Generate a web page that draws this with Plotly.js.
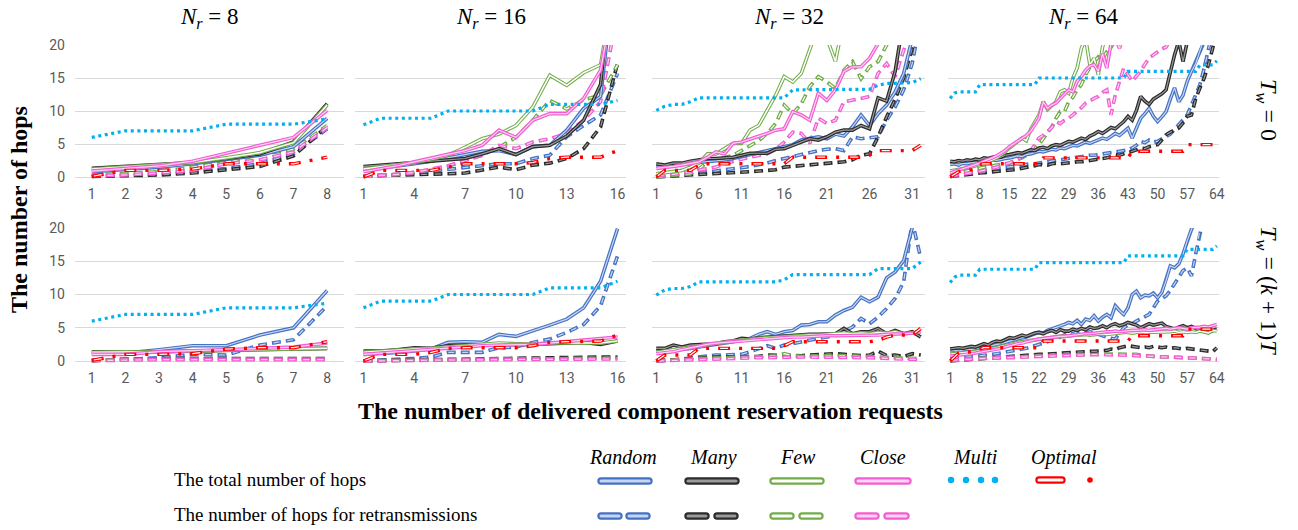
<!DOCTYPE html>
<html>
<head>
<meta charset="utf-8">
<script src="https://cdn.plot.ly/plotly-3.0.1.min.js"></script>
<style>html,body{margin:0;padding:0;background:#fff;}#chart{width:1298px;height:530px;}</style>
</head>
<body>
<div id="chart"></div>
<script>
// ---------------- DATA ----------------
const panelSizes = [8, 16, 32, 64];
const rowLabels = ['<i>T</i><sub><i>w</i></sub> = 0', '<i>T</i><sub><i>w</i></sub> = (<i>k</i> + 1)<i>T</i>'];
const colTitles = ['<i>N</i><sub><i>r</i></sub> = 8', '<i>N</i><sub><i>r</i></sub> = 16', '<i>N</i><sub><i>r</i></sub> = 32', '<i>N</i><sub><i>r</i></sub> = 64'];
const methodNames = ['Random', 'Many', 'Few', 'Close', 'Multi', 'Optimal'];
const yTicks = [0, 5, 10, 15, 20];
const xTicks8 = [1, 2, 3, 4, 5, 6, 7, 8];
const xTicks16 = [1, 4, 7, 10, 13, 16];
const xTicks32 = [1, 6, 11, 16, 21, 26, 31];
const xTicks64 = [1, 8, 15, 22, 29, 36, 43, 50, 57, 64];

// ---- Tw = 0, Nr = 8
const t8_random   = [0.8,1.1,1.5,2,2.6,3.3,4.6,8.9];
const t8_randomR  = [0.1,0.2,0.4,0.8,1.3,2,3.5,7.3];
const t8_many     = [1.3,1.6,1.9,2.2,2.8,3.5,5.3,11.1];
const t8_manyR    = [0.1,0.2,0.3,0.6,1.1,1.6,3.2,7.7];
const t8_few      = [1.2,1.5,1.8,2.2,2.9,3.7,5.2,10.9];
const t8_fewR     = [0.3,0.5,0.8,1.5,2.2,3.4,4.2,7.8];
const t8_close    = [0.9,1.3,1.7,2.4,3.6,4.7,6,10.1];
const t8_closeR   = [0.2,0.3,0.6,1,2,2.6,3.8,7.5];
const t8_multi    = [6,7,7,7,8,8,8,8.8];
const t8_optimal  = [0.1,1,1,1.2,2,2,2,3];

// ---- Tw = 0, Nr = 16
const t16_random  = [1,1.3,1.6,2,2.4,2.9,3.4,3.9,4,3.4,4.6,4.8,7.1,10.4,12.2,35];
const t16_randomR = [0.1,0.2,0.4,0.6,0.9,1.2,1.5,1.8,2,2,2.8,3.3,6.1,7.8,9.4,15.7];
const t16_many    = [1.6,1.8,2,2.2,2.4,2.6,2.8,3.5,4.3,3.4,4.6,4.8,6.2,8.6,14,40];
const t16_manyR   = [0.15,0.2,0.3,0.35,0.4,0.5,0.6,1,1.5,1.1,1.8,2.1,2.8,4.3,7.6,17.2];
const t16_few     = [1.2,1.5,1.8,2.2,2.7,3.3,4.5,5.8,6.5,7.8,10.6,15.4,13.9,15.8,17,32];
const t16_fewR    = [0.1,0.2,0.4,0.7,1.1,1.6,2.5,3.3,4.5,6,8.6,11.6,10.3,11.7,12.4,17];
const t16_close   = [0.8,1.2,1.7,2.3,2.9,3.4,4,4.8,7.1,6,8.6,9.6,9.6,11.9,16.2,30];
const t16_closeR  = [0.1,0.2,0.4,0.7,1.2,1.7,2.5,3.3,4.8,4.3,5.3,5.8,6.6,8.6,11.4,25];
const t16_multi   = [7.9,8.9,8.9,8.9,8.9,10,10,10,10,10,10,11,11,11,11,11.6];
const t16_optimal = [0,1,1,1,1,1.5,2,2,2,2,2.2,2.8,3,3,3,4];

// ---- Tw = 0, Nr = 32
const t32_random  = [1.5,1.6,1.7,1.8,2,2.2,2.3,2.4,2.6,2.8,3.1,3.3,3.6,3.9,4.3,4.6,4.9,5.6,5.8,6.1,5.8,6.5,6.2,7.6,9.4,7.8,9.6,10.9,12.9,15.7,21,28];
const t32_randomR = [0.1,0.2,0.3,0.4,0.5,0.6,0.8,0.9,1.1,1.2,1.4,1.6,1.8,2.1,2.5,2.8,3.1,3.5,3.7,4,4.2,4.3,4,6.1,5.8,6,6.1,8.6,10.6,13.2,17.2,24];
const t32_many    = [2,1.8,2.1,2.1,2.4,2.6,2.8,2.8,2.9,3,3.3,3.6,3.6,3.6,4.2,4.3,4.8,5.3,5.8,5.6,6.1,6.8,7.1,7.1,7.8,7.3,12,11.5,16,24,30,35];
const t32_manyR   = [0,0.1,0.2,0.3,0.35,0.4,0.45,0.5,0.55,0.6,0.7,0.8,0.9,1,1.1,1.5,1.6,1.7,1.8,1.9,2,2.1,2.3,2.6,3.3,3.5,6.1,9.1,11.8,15,19.5,24];
const t32_few     = [0.5,0.7,0.9,1,1.5,2.1,3.5,3.5,4.3,5.1,5.1,7.1,7.8,10.1,12.4,15.2,14.4,15.7,19.5,23,21,17.5,24,26,25,28,30,29,32,34,36,38];
const t32_fewR    = [0,0.1,0.2,0.3,0.5,1.2,2.3,2.6,2.9,3.3,4,4.8,5.5,6.6,8.1,10.9,9.6,11.1,13.7,15.2,14.4,13.4,16.2,17.5,14.9,16.7,17.5,20,22,24,26,28];
const t32_close   = [1.3,1.4,1.6,1.8,2,2.3,3,3.8,3.5,5.1,5.3,5.7,6.1,6.6,7.1,7.3,9.9,9.4,8.6,12.7,11.6,13.2,16,16.7,16.7,18,20.2,22,24,26,28,30];
const t32_closeR  = [0.25,0.3,0.4,0.6,0.8,1,1.2,1.5,2,2.4,2.7,3,3.2,3.5,4.2,5.3,6.8,6.6,5.1,8.9,8.1,8.6,11.4,11.6,11.9,12.2,15.7,17.2,15.2,19.2,23,26];
const t32_multi   = [10.1,10.7,11,11,11.4,12,12,12,12,12,12,12,12,12,12,12,13.2,13.2,13.2,13.2,13.2,13.2,13.2,13.2,13.2,13.3,13.9,14.2,14.2,14.2,14.3,14.9];
const t32_optimal = [0,1,1,1,1,1.8,2,2,2,2,2,2,2,2,2,2,3,3,3,3,3,3,3,3,3,3.3,4,4,4,4,4,4.8];

// ---- Tw = 0, Nr = 64
const t64_random  = [1.9,2.0,1.8,2.1,2.0,2.2,2.1,2.3, 2.4,2.3,2.6,2.5,2.7,2.8,2.9, 3.0,3.2,3.1,3.4,3.5,3.7,3.9, 3.8,4.0,4.2,4.1,4.4,4.3,4.6, 4.8,4.7,5.0,5.3,5.1,5.4,5.6, 5.9,5.7,6.2,6.6,6.3,6.9,7.4, 5.9,7.5,8.9,9.6,10.4,9.2,8.4, 9.1,9.9,11.8,13.5,11.4,12.4,14.5, 16,17.2,19,20.5,23,26,29];
const t64_randomR = [0.35,0.4,0.5,0.5,0.6,0.7,0.8,0.9, 1.0,1.1,1.1,1.3,1.4,1.5,1.6, 1.7,1.7,1.8,1.9,2.0,2.0,2.1, 2.2,2.3,2.4,2.5,2.6,2.8,2.9, 3.0,3.0,3.1,3.2,3.3,3.3,3.4, 3.5,3.6,3.7,3.8,3.9,4.0,4.1, 4.4,4.8,5.4,5.2,5.6,5.3,5.4, 5.8,6.1,6.5,7.2,7.9,8.6,9.4, 10.9,12.5,14,16.5,19,22,25];
const t64_many    = [2.4,2.3,2.5,2.4,2.6,2.5,2.7,2.6, 2.9,2.8,3.0,3.1,3.0,3.3,3.4, 3.5,3.7,3.6,3.9,4.1,4.0,4.4, 4.5,4.3,4.7,4.9,4.8,5.1,5.4, 5.3,5.6,5.9,5.7,6.2,6.5,6.9, 6.6,7.1,7.5,7.3,7.9,8.4,9.2, 8.6,10.1,12.2,11.5,11.0,11.8,12.2, 12.6,13.2,16.0,18.5,20.6,17.5,20.5, 23,24,26,28,30,33,36];
const t64_manyR   = [0.1,0.15,0.2,0.25,0.3,0.4,0.5,0.6, 0.65,0.7,0.75,0.8,0.85,0.9,1.0, 1.1,1.2,1.3,1.4,1.6,1.7,1.9, 1.9,1.8,2.0,2.1,2.0,2.1,2.1, 2.2,2.3,2.3,2.4,2.4,2.5,2.6, 2.7,2.9,3.1,3.4,3.3,3.5,3.6, 3.8,4.1,4.4,4.3,4.6,4.7,4.9, 5.6,6.4,6.8,7.1,7.4,8.2,9.2, 9.4,11.9,13.5,15,17,19.5,22];
const t64_few     = [0.9,1.0,1.1,1.2,1.3,1.5,1.7,1.9, 2.1,2.3,2.6,2.9,3.3,3.8,4.4, 4.9,5.4,5.9,5.5,7.2,8.3,9.4, 11.4,10.2,10.8,11.4,12.9,13.2,12.7, 15.0,16.5,19.5,21,17,18,15.5, 19.7,22,24,23,25,26,27, 28,27,29,30,31,32,33, 34,35,36,37,38,39,40, 41,42,43,44,45,46,47];
const t64_fewR    = [0.35,0.5,0.6,0.7,0.9,1.0,1.2,1.4, 1.5,1.6,1.7,1.8,1.9,2.0,2.1, 2.4,2.6,2.9,3.3,3.9,4.4,4.9, 5.8,6.9,7.6,8.9,9.9,9.9,11.4, 12.1,13.2,14.0,15.5,16.6,17.5,18.2, 17.8,19.0,19.6,21,22,21.5,23, 24,25,24.5,26,27,28,29, 30,31,32,33,34,35,36, 37,38,39,40,41,42,43];
const t64_close   = [0.6,0.8,1.0,1.2,1.4,1.7,1.9,2.1, 2.4,2.6,2.9,3.2,3.6,4.0,4.6, 5.0,5.4,5.9,6.3,6.9,7.8,8.9, 11.4,10.4,10.9,11.2,11.9,12.6,13.2, 12.9,14.5,15.2,16.2,16.8,17.0,16.0, 18.7,16.5,20.2,21,19.5,22,23, 24,25,26,27,28,29,30, 31,32,33,34,35,36,37, 38,39,40,41,42,43,44];
const t64_closeR  = [0.1,0.2,0.3,0.4,0.5,0.6,0.8,0.9, 1.0,1.2,1.3,1.5,1.7,1.9,2.1, 2.4,2.7,3.0,3.4,3.9,4.9,5.9, 6.3,6.9,7.5,8.4,8.1,8.6,8.9, 9.4,9.9,10.5,11.2,11.6,11.9,12.2, 12.8,13.2,9.4,12.4,14.5,16.5,15.5, 14.5,15.3,16.0,17.1,18.0,18.5,19.0, 19.4,19.7,21,22,23,24,25, 26,27,28,29,30,31,32];
const t64_multi   = [11.9,12.7,12.9,12.9,12.9,12.9,12.9, 14,14,14,14,14,14,14,14,14,14,14,14,14,14, 15,15,15,15,15,15,15,15,15,15,15,15,15,15,15,15,15,15,15,15,15, 16,16,16,16,16,16,16,16,16,16,16,16,16,16,16,16,16, 17,17,17,17, 17.6];
const t64_optimal = [0,0.4,0.8,1.0,1.0,1.1,1.5,1.9, 2,2,2,2,2,2,2,2,2,2,2,2,2,2, 2.9,2.9,2.9,2.9,2.9,2.9,2.9,2.9,2.9,2.9,2.9,2.9,2.9,2.9,2.9,2.9,2.9,2.9,2.9,2.9,2.9, 3.9,3.9,3.9,3.9,3.9,3.9,3.9,3.9,3.9,3.9,3.9,3.9,3.9, 4.9,4.9,4.9,4.9,4.9,4.9,4.9, 5.9];

// ---- Tw = (k+1)T, Nr = 8
const b8_random   = [1.1,1.2,1.7,2.3,2.3,3.9,5,10.6];
const b8_randomR  = [0.1,0.2,0.5,1,0.9,2.4,3.2,8.3];
const b8_many     = [1.4,1.3,1.4,1.5,1.6,1.7,1.8,1.9];
const b8_manyR    = [0.05,0.3,0.35,0.35,0.35,0.35,0.35,0.35];
const b8_few      = [1.3,1.3,1.4,1.5,1.6,1.7,1.8,1.9];
const b8_fewR     = [0.05,0.25,0.3,0.3,0.3,0.3,0.3,0.3];
const b8_close    = [1,1,1.4,1.5,1.7,1.9,2.1,2.7];
const b8_closeR   = [0.05,0.15,0.2,0.2,0.2,0.2,0.2,0.2];
const b8_multi    = [6,7,7,7,8,8,8,8.7];
const b8_optimal  = [0.1,1,1,1.1,1.8,2,2,2.9];

// ---- Tw = (k+1)T, Nr = 16
const b16_random  = [1,1.1,1.3,1.5,1.8,2.8,2.9,2.8,4,3.7,4.5,5.4,6.3,8,12,19.9];
const b16_randomR = [0,0.1,0.25,0.4,0.6,1.3,1.3,1.3,2,2.1,2.8,3.3,4.3,5.5,8.3,15.8];
const b16_many    = [1.5,1.5,1.7,2,1.9,2.3,2.4,2.4,2.5,2.5,2.5,2.6,2.7,2.8,2.5,3];
const b16_manyR   = [0,0.1,0.15,0.2,0.2,0.25,0.3,0.35,0.35,0.4,0.4,0.45,0.5,0.55,0.6,0.6];
const b16_few     = [1.3,1.5,1.6,1.8,1.9,2.1,2.3,2.4,2.7,2.6,2.5,2.7,2.7,2.8,2.7,3];
const b16_fewR    = [0,0.05,0.1,0.15,0.15,0.2,0.2,0.25,0.3,0.3,0.3,0.35,0.35,0.35,0.35,0.4];
const b16_close   = [1,1.2,1.4,1.6,1.8,2,2.2,2.3,2.4,2.4,2.5,2.7,2.9,3.1,3.3,3.6];
const b16_closeR  = [0,0.05,0.05,0.1,0.1,0.15,0.15,0.2,0.2,0.25,0.25,0.25,0.3,0.3,0.3,0.3];
const b16_multi   = [8,9,9,9,9,10,10,10,10,10,10,11,11,11,11,12];
const b16_optimal = [0,1,1,1,1.3,1.9,2,2,2,2,2.3,2.8,2.9,3,3,3.9];

// ---- Tw = (k+1)T, Nr = 32
const b32_random  = [1.4,1.5,1.6,1.7,1.9,2.1,2.3,2.4,2.6,2.9,3.1,3.4,4,4.4,4,4.4,4.6,5.4,5.5,5.9,5.9,6.9,7.6,8.1,9.6,8.9,9.6,12.5,13.4,15.1,19.9,25];
const b32_randomR = [0,0.15,0.15,0.3,0.4,0.65,0.8,0.9,0.9,0.9,1,1.4,1.9,2.3,1.9,2.4,2.6,2.9,3.1,3.4,3.6,3.9,4.5,5.1,6.4,5.6,6.6,7.9,9.4,11.9,21,15.5];
const b32_many    = [1.9,1.9,2.4,2.1,2.4,2.5,2.6,2.6,2.9,3,3.4,3.3,3.5,3.6,3.6,3.7,3.9,3.9,4,4,4.1,4.1,4.9,4.1,4.4,4.4,4.9,4.1,4.6,4.1,4.4,3.6];
const b32_manyR   = [0,0.1,0.2,0.3,0.4,0.5,0.55,0.6,0.6,0.65,0.65,0.65,0.7,0.9,0.85,0.9,0.85,0.8,0.9,0.95,1,1.1,1,0.9,0.8,0.9,1.5,0.8,0.9,0.65,1.1,0.9];
const b32_few     = [1.3,1.5,1.7,1.9,2.1,2.3,2.4,2.6,2.8,3,3.1,3.3,3.4,3.5,3.6,3.7,3.8,3.8,3.9,3.9,4,4,4.2,4.1,4.2,4.1,4.3,4.2,4.4,4.1,4.2,4.5];
const b32_fewR    = [0,0.1,0.15,0.2,0.3,0.35,0.4,0.45,0.5,0.55,0.6,0.6,0.65,0.7,0.75,1.1,0.8,0.7,0.75,0.7,0.75,0.8,0.8,0.75,0.7,0.65,0.6,0.55,0.5,0.45,0.4,0.35];
const b32_close   = [1.1,1.2,1.4,1.7,2,2.3,2.5,2.7,2.8,2.9,3.1,3.2,3.3,3.4,3.4,3.5,3.6,3.6,3.7,3.7,3.8,3.8,3.8,3.8,3.9,3.9,3.9,4,4,4.1,4.2,4.4];
const b32_closeR  = [0,0.05,0.1,0.15,0.2,0.25,0.3,0.35,0.4,0.4,0.45,0.45,0.5,0.5,0.55,0.55,0.55,0.6,0.6,0.6,0.6,0.6,0.55,0.55,0.5,0.5,0.45,0.4,0.35,0.3,0.25,0.2];
const b32_multi   = [9.9,10.7,10.9,10.9,11.2,11.9,11.9,11.9,11.9,11.9,11.9,11.9,11.9,11.9,11.9,12.2,13,13,13,13,13,13,13,13,13,13,13.9,13.9,13.9,13.9,13.9,14.9];
const b32_optimal = [0,0.9,0.9,0.9,0.9,1.9,1.9,1.9,1.9,1.9,1.9,1.9,1.9,1.9,1.9,2.3,2.9,2.9,2.9,2.9,2.9,2.9,2.9,2.9,2.9,2.9,3.1,3.6,3.9,3.9,3.9,4.9];

// ---- Tw = (k+1)T, Nr = 64
const b64_random  = [1.5,1.6,1.5,1.7,1.8,1.7,1.9,2.0, 2.1,2.2,2.3,2.5,2.6,2.8,3.0, 3.1,3.3,3.5,3.6,3.9,4.1,4.3, 4.2,4.6,4.8,5.0,5.3,5.5,5.8, 5.6,6.1,5.5,6.3,6.1,6.8,6.0, 6.6,7.0,6.5,8.3,7.6,7.0,8.0, 10.0,10.5,9.5,9.9,9.8,10.2,9.5, 10.3,12.1,14.3,14.0,14.6,16.1,18.1, 19.8,21,22,23,24,25,26];
const b64_randomR = [0.5,0.5,0.55,0.6,0.6,0.65,0.7,0.75, 0.8,0.9,1.0,1.1,1.2,1.3,1.5, 1.6,1.7,1.8,1.9,2.1,2.3,2.5, 2.7,2.9,3.5,3.3,3.6,4.0,4.3, 4.1,4.4,4.5,4.2,4.4,4.3,4.0, 3.8,3.5,3.4,3.3,4.2,5.0,5.4, 5.6,6.0,6.3,6.6,7.0,8.0,9.0, 9.4,9.8,10.6,11.6,12.4,13.6,14.0, 12.8,16.1,19.8,22,24,26,28];
const b64_many    = [1.8,1.9,2.0,1.9,2.1,2.2,2.1,2.3, 2.6,2.4,2.8,3.0,2.9,3.2,3.5, 3.4,3.6,3.9,3.7,4.0,4.2,4.3, 4.1,4.4,4.6,4.3,4.7,4.5,4.5, 4.8,4.6,4.9,4.7,5.1,4.9,5.0, 5.3,5.0,5.4,5.6,5.3,5.5,5.8, 5.6,5.4,5.0,5.3,5.6,5.4,5.5, 5.7,5.2,5.0,4.8,5.1,5.3,5.0, 5.2,4.9,4.5,4.6,4.3,4.6,4.8];
const b64_manyR   = [0,0.05,0.1,0.15,0.2,0.25,0.3,0.4, 0.45,0.5,0.5,0.55,0.6,0.7,0.75, 0.8,0.8,0.85,0.9,0.9,0.95,1.0, 1.0,1.05,1.1,1.1,1.15,1.2,1.3, 1.3,1.35,1.4,1.4,1.45,1.45,1.5, 1.5,1.6,1.8,1.7,2.0,2.2,2.3, 2.2,2.1,2.0,2.1,2.0,2.2,2.1, 2.0,2.1,1.9,2.0,1.9,1.8,1.9, 1.8,1.7,1.6,1.5,1.5,1.4,2.0];
const b64_few     = [1.0,1.1,1.1,1.2,1.3,1.3,1.4,1.5, 1.6,1.7,1.9,2.0,2.2,2.3,2.5, 2.6,2.8,2.9,3.0,3.1,3.2,3.3, 3.4,3.5,3.5,3.6,3.7,3.7,3.8, 3.8,3.9,3.9,4.0,3.9,4.0,4.0, 4.1,4.0,4.1,4.2,4.2,4.3,4.3, 4.2,4.3,4.4,4.3,4.3,4.4,4.3, 4.4,4.3,4.4,4.5,4.3,4.4,4.3, 4.4,4.3,4.5,4.4,4.2,4.6,4.5];
const b64_fewR    = [0.1,0.15,0.2,0.25,0.3,0.35,0.35,0.4, 0.4,0.45,0.45,0.5,0.5,0.5,0.55, 0.55,0.6,0.6,0.65,0.7,0.7,0.75, 0.75,0.8,0.8,0.85,0.85,0.9,0.9, 0.9,0.95,0.95,1.0,1.0,1.0,1.0, 1.05,1.05,1.1,1.1,1.1,1.1,1.1, 1.0,1.0,0.9,0.9,0.8,0.7,0.6, 0.6,0.6,0.55,0.55,0.5,0.5,0.5, 0.45,0.45,0.4,0.4,0.35,0.3,0.25];
const b64_close   = [0.75,0.8,0.85,0.9,1.0,1.1,1.2,1.3, 1.4,1.5,1.6,1.8,1.9,2.1,2.3, 2.4,2.6,2.7,2.9,3.0,3.2,3.3, 3.4,3.5,3.5,3.6,3.7,3.7,3.8, 3.9,3.9,4.0,4.1,4.1,4.2,4.3, 4.3,4.4,4.4,4.5,4.4,4.5,4.5, 4.6,4.6,4.7,4.7,4.6,4.7,4.8, 4.8,4.9,4.8,4.9,5.0,4.9,4.8, 5.0,5.0,5.1,5.2,5.1,5.3,5.5];
const b64_closeR  = [0.1,0.1,0.15,0.2,0.25,0.3,0.3,0.35, 0.4,0.4,0.45,0.45,0.5,0.5,0.5, 0.55,0.55,0.6,0.6,0.65,0.65,0.7, 0.7,0.75,0.75,0.8,0.8,0.8,0.85, 0.85,0.9,0.9,0.95,0.95,1.0,1.0, 1.0,0.95,0.95,0.9,0.9,0.9,0.85, 0.85,0.8,0.8,0.75,0.7,0.7,0.65, 0.65,0.6,0.6,0.55,0.55,0.5,0.5, 0.45,0.45,0.4,0.35,0.3,0.3,0.25];
const b64_multi   = [11.8,12.6, 12.9,12.9,12.9,12.9,12.9, 13.8,13.8,13.8,13.8,13.8,13.8,13.8,13.8,13.8,13.8,13.8,13.8,13.8,13.8, 14.8,14.8,14.8,14.8,14.8,14.8,14.8,14.8,14.8,14.8,14.8,14.8,14.8,14.8,14.8,14.8,14.8,14.8,14.8,14.8,14.8, 15.8,15.8,15.8,15.8,15.8,15.8,15.8,15.8,15.8,15.8,15.8,15.8,15.8,15.8, 16.8,16.8,16.8,16.8,16.8,16.8,16.8, 17.3];
const b64_optimal = [0,0.6,1.2,1.3,1.3,1.4,1.6,1.8, 2,2,2,2,2,2,2,2,2,2,2,2,2,2, 3,3,3,3,3,3,3,3,3,3,3,3,3,3,3,3,3,3,3,3,3, 3.8,3.8,3.8,3.8,3.8,3.8,3.8,3.8,3.8,3.8,3.8,3.8,3.8, 4.8,4.8,4.8,4.8,4.8,4.8,4.8, 5.8];

// ---------------- ASSEMBLY ----------------
const panelData = [
  [ {random:t8_random,randomR:t8_randomR,many:t8_many,manyR:t8_manyR,few:t8_few,fewR:t8_fewR,close:t8_close,closeR:t8_closeR,multi:t8_multi,optimal:t8_optimal},
    {random:t16_random,randomR:t16_randomR,many:t16_many,manyR:t16_manyR,few:t16_few,fewR:t16_fewR,close:t16_close,closeR:t16_closeR,multi:t16_multi,optimal:t16_optimal},
    {random:t32_random,randomR:t32_randomR,many:t32_many,manyR:t32_manyR,few:t32_few,fewR:t32_fewR,close:t32_close,closeR:t32_closeR,multi:t32_multi,optimal:t32_optimal},
    {random:t64_random,randomR:t64_randomR,many:t64_many,manyR:t64_manyR,few:t64_few,fewR:t64_fewR,close:t64_close,closeR:t64_closeR,multi:t64_multi,optimal:t64_optimal} ],
  [ {random:b8_random,randomR:b8_randomR,many:b8_many,manyR:b8_manyR,few:b8_few,fewR:b8_fewR,close:b8_close,closeR:b8_closeR,multi:b8_multi,optimal:b8_optimal},
    {random:b16_random,randomR:b16_randomR,many:b16_many,manyR:b16_manyR,few:b16_few,fewR:b16_fewR,close:b16_close,closeR:b16_closeR,multi:b16_multi,optimal:b16_optimal},
    {random:b32_random,randomR:b32_randomR,many:b32_many,manyR:b32_manyR,few:b32_few,fewR:b32_fewR,close:b32_close,closeR:b32_closeR,multi:b32_multi,optimal:b32_optimal},
    {random:b64_random,randomR:b64_randomR,many:b64_many,manyR:b64_manyR,few:b64_few,fewR:b64_fewR,close:b64_close,closeR:b64_closeR,multi:b64_multi,optimal:b64_optimal} ]
];
const xTickSets = [xTicks8, xTicks16, xTicks32, xTicks64];

// sanity check on lengths
panelData.forEach((row, r) => row.forEach((p, c) => {
  Object.keys(p).forEach(k => { if (p[k].length !== panelSizes[c]) throw new Error('length mismatch r' + r + ' c' + c + ' ' + k + ' ' + p[k].length); });
}));

// ---------------- STYLE / LAYOUT ----------------
const W = 1298, H = 530;
const colPx = [[75, 344], [355, 626], [652, 925], [948, 1219]];
const rowPx = [{top: 45, zero: 177}, {top: 228, zero: 361}];
const YMIN = -0.4, YMAX = 20;
const styles = {
  random: {c: '#4472C4', inner: '#C9D6F0'},
  many:   {c: '#2B2B2B', inner: '#9A9A9A'},
  few:    {c: '#70AD47', inner: '#FFFFFF'},
  close:  {c: '#F25ED2', inner: '#FBD3F3'}
};
const MULTI_C = '#00B0F0', OPT_C = '#FF0000';
const px = x => x / W, py = y => 1 - y / H;

const traces = [];
const layout = {
  width: W, height: H, margin: {l: 0, r: 0, t: 0, b: 0},
  paper_bgcolor: '#ffffff', plot_bgcolor: 'rgba(0,0,0,0)',
  showlegend: false, hovermode: false,
  annotations: [], shapes: []
};
const tickFont = {family: 'Roboto, sans-serif', size: 14, color: '#595959'};

let idx = 0;
for (let r = 0; r < 2; r++) {
  for (let c = 0; c < 4; c++) {
    idx++;
    const n = panelSizes[c];
    const xs = Array.from({length: n}, (_, i) => i + 1);
    const xa = 'x' + (idx === 1 ? '' : idx), ya = 'y' + (idx === 1 ? '' : idx);
    const xKey = 'xaxis' + (idx === 1 ? '' : idx), yKey = 'yaxis' + (idx === 1 ? '' : idx);
    const rp = rowPx[r];
    const ppu = (rp.zero - rp.top) / (YMAX - 0);
    const bottomPx = rp.zero - YMIN * ppu;
    layout[xKey] = {
      domain: [px(colPx[c][0]), px(colPx[c][1])], anchor: ya,
      range: [0.5, n + 0.5], tickmode: 'array', tickvals: xTickSets[c],
      ticktext: xTickSets[c].map(String),
      showgrid: false, zeroline: false, showline: false, ticks: '',
      tickfont: tickFont, ticklabelstandoff: 4, fixedrange: true
    };
    layout[yKey] = {
      domain: [py(bottomPx), py(rp.top)], anchor: xa,
      range: [YMIN, YMAX], tickmode: 'array', tickvals: yTicks,
      showgrid: true, gridcolor: '#D9D9D9', gridwidth: 1,
      zeroline: false, showline: false, ticks: '',
      showticklabels: c === 0, tickfont: tickFont, ticklabelstandoff: 9, fixedrange: true
    };
    const p = panelData[r][c];
    const add = (y, color, width, dash) => traces.push({
      type: 'scatter', mode: 'lines', x: xs, y: y, xaxis: xa, yaxis: ya,
      line: {color: color, width: width, dash: dash || 'solid'}, hoverinfo: 'skip'
    });
    // retransmission (dashed double lines)
    ['random', 'many', 'few', 'close'].forEach(m => {
      const s = styles[m];
      add(p[m + 'R'], s.c, 3.6, '9px,5px');
      add(p[m + 'R'], s.inner, 1.2, '0px,1.5px,6px,6.5px');
    });
    // total (solid double lines)
    ['random', 'many', 'few', 'close'].forEach(m => {
      const s = styles[m];
      add(p[m], s.c, 3.6);
      add(p[m], s.inner, m === 'few' ? 1.5 : 1.2);
    });
    add(p.multi, MULTI_C, 3.2, '3px,3.6px');
    add(p.optimal, OPT_C, 3.4, '12px,9px,3px,9px');
    add(p.optimal, '#FFFFFF', 1.2, '0px,2px,8px,23px');
  }
}

// Titles
const serif = 'Liberation Serif, Times New Roman, serif';
colTitles.forEach((t, c) => layout.annotations.push({
  xref: 'paper', yref: 'paper', x: px((colPx[c][0] + colPx[c][1]) / 2), y: py(18),
  text: t, showarrow: false, xanchor: 'center', yanchor: 'middle',
  font: {family: serif, size: 23, color: '#000'}
}));
rowLabels.forEach((t, r) => layout.annotations.push({
  xref: 'paper', yref: 'paper', x: px(1267), y: py(r === 0 ? 110 : 290),
  text: t, showarrow: false, textangle: 90, xanchor: 'center', yanchor: 'middle',
  font: {family: serif, size: 24, color: '#000'}
}));
layout.annotations.push({
  xref: 'paper', yref: 'paper', x: px(19), y: py(210), text: '<b>The number of hops</b>',
  showarrow: false, textangle: -90, xanchor: 'center', yanchor: 'middle',
  font: {family: serif, size: 24, color: '#000'}
});
layout.annotations.push({
  xref: 'paper', yref: 'paper', x: px(650), y: py(411),
  text: '<b>The number of delivered component reservation requests</b>',
  showarrow: false, xanchor: 'center', yanchor: 'middle',
  font: {family: serif, size: 24, color: '#000'}
});

// Legend (drawn as shapes + text)
const legendHeaderX = [623, 713, 798, 883, 975, 1064];
methodNames.forEach((m, i) => layout.annotations.push({
  xref: 'paper', yref: 'paper', x: px(legendHeaderX[i]), y: py(457),
  text: '<i>' + m + '</i>', showarrow: false, xanchor: 'center', yanchor: 'middle',
  font: {family: serif, size: 20, color: '#000'}
}));
layout.annotations.push({
  xref: 'paper', yref: 'paper', x: px(172), y: py(479), text: 'The total number of hops',
  showarrow: false, xanchor: 'left', yanchor: 'middle', font: {family: serif, size: 19, color: '#000'}
});
layout.annotations.push({
  xref: 'paper', yref: 'paper', x: px(172), y: py(514), text: 'The number of hops for retransmissions',
  showarrow: false, xanchor: 'left', yanchor: 'middle', font: {family: serif, size: 19, color: '#000'}
});
function capsule(x1, x2, yc, rr, color, fill) {
  const a = px(x1), b = px(x2), r = rr / W, t = py(yc - rr), u = py(yc + rr), m = py(yc);
  const path = `M${a},${t} L${b},${t} Q${b + r},${t} ${b + r},${m} Q${b + r},${u} ${b},${u} L${a},${u} Q${a - r},${u} ${a - r},${m} Q${a - r},${t} ${a},${t} Z`;
  layout.shapes.push({type: 'path', xref: 'paper', yref: 'paper', path: path,
    line: {color: color, width: 2.2}, fillcolor: fill});
}
const legSolid = [[601, 649], [688, 736], [773, 821], [858, 908]];
const legDash = [[[601, 619], [629, 647]], [[688, 706], [717, 735]], [[773, 791], [802, 820]], [[858, 876], [887, 906]]];
['random', 'many', 'few', 'close'].forEach((m, i) => {
  const s = styles[m];
  capsule(legSolid[i][0], legSolid[i][1], 481, 2.6, s.c, s.inner);
  legDash[i].forEach(seg => capsule(seg[0], seg[1], 516, 2.6, s.c, s.inner));
});
function dot(x, y, rr, color) {
  layout.shapes.push({type: 'circle', xref: 'paper', yref: 'paper',
    x0: px(x - rr), x1: px(x + rr), y0: py(y + rr), y1: py(y - rr),
    line: {width: 0}, fillcolor: color});
}
[951, 966, 981, 995].forEach(x => dot(x, 480, 3.2, MULTI_C));
capsule(1039, 1062, 480, 2.6, OPT_C, '#FFFFFF');
dot(1090, 480, 2.8, OPT_C);

Plotly.newPlot('chart', traces, layout, {staticPlot: true, displayModeBar: false});
</script>
</body>
</html>
